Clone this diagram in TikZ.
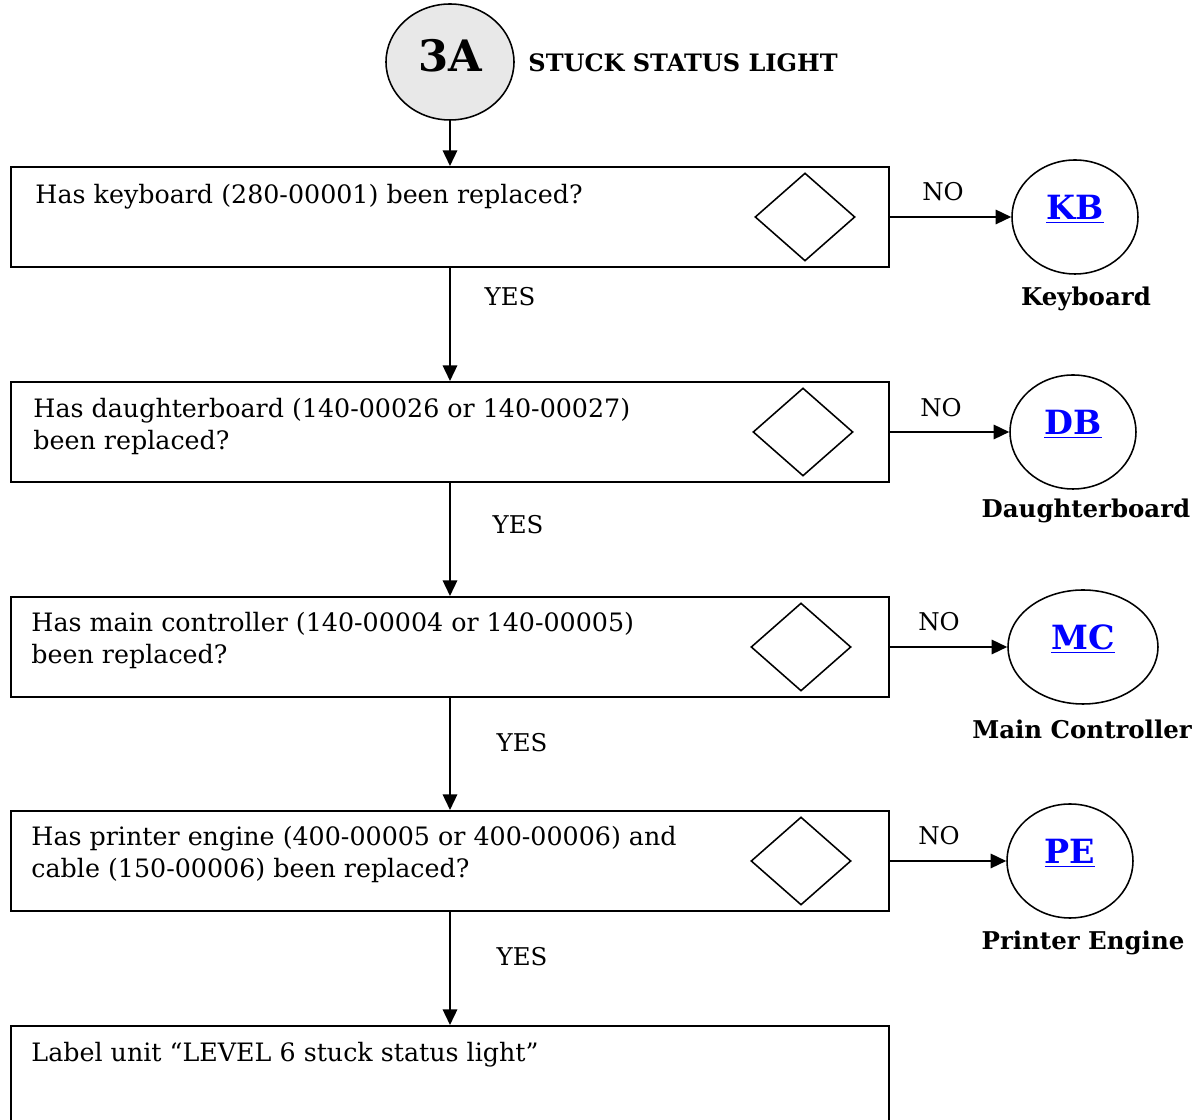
\documentclass[tikz,border=0pt]{standalone}
\usepackage{fontspec}
\setmainfont{DejaVu Serif}
\usetikzlibrary{graphs}
\usetikzlibrary{arrows.meta}
\usetikzlibrary{shapes.geometric}

\tikzset{
    qbox/.style={draw, line width=0.9pt, minimum width=395pt, minimum height=45pt, inner sep=0pt},
    qtext/.style={anchor=north west, inner sep=0pt, align=left, font=\fontsize{11.4}{14.4}\selectfont},
    qdiamond/.style={draw, diamond, line width=0.7pt, minimum width=45pt, minimum height=39.6pt, inner sep=0pt},
    goto/.style={draw, ellipse, line width=0.7pt, minimum width=56.7pt, minimum height=51.3pt, inner sep=0pt,
        text height=10pt, text depth=8pt, font=\fontsize{15}{18}\selectfont\bfseries, text=blue},
    gotoname/.style={font=\fontsize{11}{13}\selectfont\bfseries},
    answer/.style={font=\fontsize{11}{13}\selectfont}
}

\begin{document}
\begin{tikzpicture} [x=0.45pt, y=-0.45pt, >={Triangle[length=7pt,width=6.5pt]}]
            \useasboundingbox (0,0) rectangle (1196,1120);

            % start
            \node[draw, ellipse, fill=black!9, line width=0.7pt, minimum width=57.6pt, minimum height=52.2pt,
                text height=13pt, text depth=4pt, font=\fontsize{19.5}{23}\selectfont\bfseries] (s) at (450, 62) {3A};
            \node[anchor=west, inner sep=0pt, font=\fontsize{10.8}{13}\selectfont\bfseries] (title) at (528, 63) {STUCK STATUS LIGHT};

            % questions
            \node[qbox] (q1) at (450, 217) {};
            \node[qbox] (q2) at (450, 432) {};
            \node[qbox] (q3) at (450, 647) {};
            \node[qbox] (q4) at (450, 861) {};
            \node[qbox] (q5) at (450, 1076) {};

            \node[qtext] (t1) at (35, 184) {Has keyboard (280-00001) been replaced?};
            \node[qtext] (t2) at (33, 398) {Has daughterboard (140-00026 or 140-00027)\\been replaced?};
            \node[qtext] (t3) at (31, 612) {Has main controller (140-00004 or 140-00005)\\been replaced?};
            \node[qtext] (t4) at (31, 826) {Has printer engine (400-00005 or 400-00006) and\\cable (150-00006) been replaced?};
            \node[qtext] (t5) at (31, 1042) {Label unit “LEVEL 6 stuck status light”};

            \node[qdiamond] (d1) at (805, 217) {};
            \node[qdiamond] (d2) at (803, 432) {};
            \node[qdiamond] (d3) at (801, 647) {};
            \node[qdiamond] (d4) at (801, 861) {};

            % go to
            \node[goto] (kb) at (1075, 217) {\underline{KB}};
            \node[goto] (db) at (1073, 432) {\underline{DB}};
            \node[goto, minimum width=67.5pt] (mc) at (1083, 647) {\underline{MC}};
            \node[goto] (pe) at (1070, 861) {\underline{PE}};

            \node[gotoname] (kbname) at (1086, 299) {Keyboard};
            \node[gotoname] (dbname) at (1086, 511) {Daughterboard};
            \node[gotoname] (mcname) at (1082, 729) {Main Controller};
            \node[gotoname] (pename) at (1083, 943) {Printer Engine};

            % answers
            \node[answer] (y1) at (510, 297) {YES};
            \node[answer] (y2) at (518, 525) {YES};
            \node[answer] (y3) at (522, 743) {YES};
            \node[answer] (y4) at (522, 957) {YES};
            \node[answer] (n1) at (943, 192) {NO};
            \node[answer] (n2) at (941, 408) {NO};
            \node[answer] (n3) at (939, 622) {NO};
            \node[answer] (n4) at (939, 836) {NO};

            \graph[edges={line width=0.8pt}] {
                (s) -> (q1) -> (q2) -> (q3) -> (q4) -> (q5);
                (q1) -> (kb); (q2) -> (db); (q3) -> (mc); (q4) -> (pe)
            };
        \end{tikzpicture}
\end{document}
